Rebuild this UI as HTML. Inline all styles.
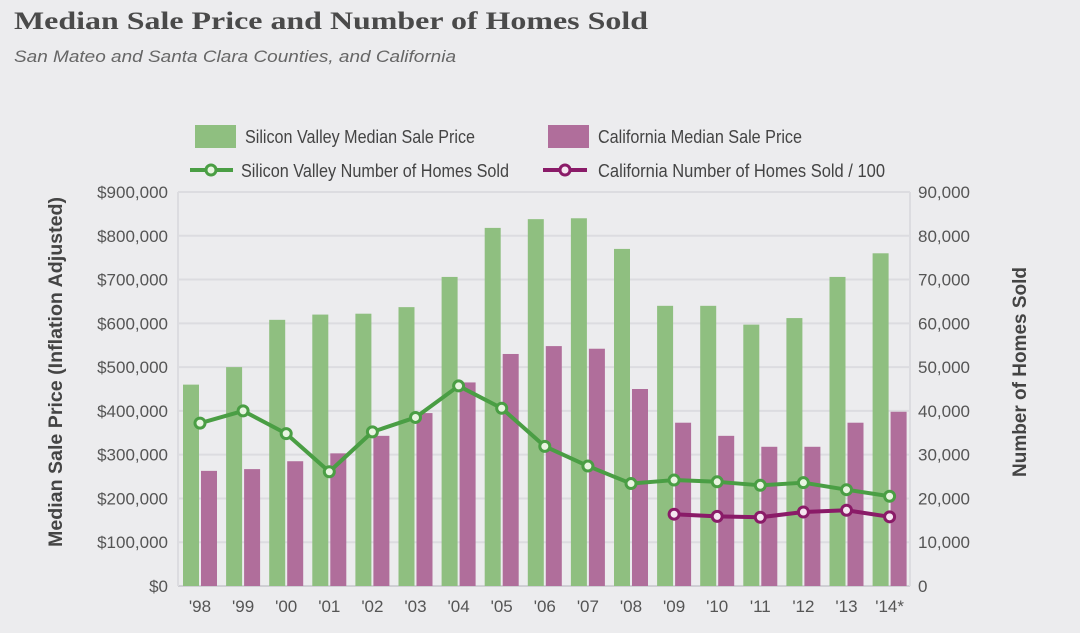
<!DOCTYPE html>
<html><head><meta charset="utf-8"><style>
html,body{margin:0;padding:0;background:#ececee;}
svg{display:block;font-family:"Liberation Sans Narrow","Liberation Sans",sans-serif;}
</style></head><body>
<svg id="chart" width="1080" height="633" viewBox="0 0 1080 633">
<rect x="0" y="0" width="1080" height="633" fill="#ececee"/>
<text x="14" y="29" font-family="Liberation Serif,serif" font-weight="bold" font-size="25" fill="#4a4a4a" textLength="634" lengthAdjust="spacingAndGlyphs">Median Sale Price and Number of Homes Sold</text>
<text x="14" y="62" font-style="italic" font-size="17" fill="#666" textLength="442" lengthAdjust="spacingAndGlyphs">San Mateo and Santa Clara Counties, and California</text>
<g>
<rect x="195" y="125" width="41" height="23" fill="#8fbf80"/>
<text x="245" y="143" font-size="18" fill="#444" textLength="230" lengthAdjust="spacingAndGlyphs">Silicon Valley Median Sale Price</text>
<rect x="548" y="125" width="41" height="23" fill="#b06e9b"/>
<text x="598" y="143" font-size="18" fill="#444" textLength="204" lengthAdjust="spacingAndGlyphs">California Median Sale Price</text>
<line x1="190" y1="170" x2="233" y2="170" stroke="#4a9e44" stroke-width="4"/>
<circle cx="211" cy="170" r="5" fill="#e8f5e0" stroke="#4a9e44" stroke-width="3"/>
<text x="241" y="177" font-size="18" fill="#444" textLength="268" lengthAdjust="spacingAndGlyphs">Silicon Valley Number of Homes Sold</text>
<line x1="543" y1="170" x2="587" y2="170" stroke="#8a1b68" stroke-width="4"/>
<circle cx="565" cy="170" r="5" fill="#f5e6f0" stroke="#8a1b68" stroke-width="3"/>
<text x="598" y="177" font-size="18" fill="#444" textLength="287" lengthAdjust="spacingAndGlyphs">California Number of Homes Sold / 100</text>
</g>
<g id="grid"></g><g id="bars"></g><g id="lines"></g><g id="axes"></g>
<text transform="translate(62,372) rotate(-90)" text-anchor="middle" font-weight="bold" font-size="19" fill="#444" textLength="350" lengthAdjust="spacingAndGlyphs">Median Sale Price (Inflation Adjusted)</text>
<text transform="translate(1026,372) rotate(-90)" text-anchor="middle" font-weight="bold" font-size="19" fill="#444" textLength="210" lengthAdjust="spacingAndGlyphs">Number of Homes Sold</text>
</svg>
<script>
const years=["'98","'99","'00","'01","'02","'03","'04","'05","'06","'07","'08","'09","'10","'11","'12","'13","'14*"];
const svPrice=[460,500,608,620,622,637,706,818,838,840,770,640,640,597,612,706,760];
const caPrice=[263,267,285,303,343,395,465,530,548,542,450,373,343,318,318,373,398];
const svHomes=[37.2,40,34.8,26.1,35.2,38.5,45.7,40.6,31.9,27.4,23.4,24.2,23.8,23,23.6,22,20.5];
const caHomes=[null,null,null,null,null,null,null,null,null,null,null,16.4,15.9,15.7,16.9,17.3,15.8];
const leftTicks=["$0","$100,000","$200,000","$300,000","$400,000","$500,000","$600,000","$700,000","$800,000","$900,000"];
const rightTicks=["0","10,000","20,000","30,000","40,000","50,000","60,000","70,000","80,000","90,000"];
const NS="http://www.w3.org/2000/svg";
const X0=178,X1=910,Y0=586,Y1=192;
const yL=v=>Y0-(v/900)*(Y0-Y1);
const yR=v=>Y0-(v/90)*(Y0-Y1);
const gx=i=>183+i*43.1;
function mk(p,t,a){const e=document.createElementNS(NS,t);for(const k in a)e.setAttribute(k,a[k]);document.getElementById(p).appendChild(e);return e;}
for(let i=0;i<leftTicks.length;i++){
 const y=Y0-i*(Y0-Y1)/9;
 const g=mk('grid','line',{x1:X0,x2:X1,y1:y,y2:y,stroke:i==0?'#cfcfd4':'#dcdce0','stroke-width':2});
 
 
 const t=mk('axes','text',{x:168,y:y+6,'text-anchor':'end','font-size':17,fill:'#555'});t.textContent=leftTicks[i];
 
 
 const r=mk('axes','text',{x:918,y:y+6,'font-size':17,fill:'#555'});r.textContent=rightTicks[i];
 
 
}
mk('grid','line',{x1:X0,x2:X0,y1:Y1,y2:Y0,stroke:'#dcdce0','stroke-width':2});
mk('grid','line',{x1:X1,x2:X1,y1:Y1,y2:Y0,stroke:'#dcdce0','stroke-width':2});
mk('grid','line',{x1:X0,x2:X1,y1:Y1,y2:Y1,stroke:'#dcdce0','stroke-width':2});
years.forEach((yr,i)=>{
 const x=gx(i);
 const a=mk('bars','rect',{x:x,y:yL(svPrice[i]),width:16,height:Y0-yL(svPrice[i]),fill:'#8fbf80'});
 
 
 const b=mk('bars','rect',{x:x+18,y:yL(caPrice[i]),width:16,height:Y0-yL(caPrice[i]),fill:'#b06e9b'});
 
 
 const t=mk('axes','text',{x:x+17,y:612,'text-anchor':'middle','font-size':17,fill:'#555'});t.textContent=yr;
 
 
});
function line(data,col,fill,name){
 let pts=[];data.forEach((v,i)=>{if(v!=null)pts.push([gx(i)+17,yR(v)]);});
 const p=mk('lines','polyline',{points:pts.map(p=>p.join(',')).join(' '),fill:'none',stroke:col,'stroke-width':4,'stroke-linejoin':'round'});
 
 
 pts.forEach(q=>{const c=mk('lines','circle',{cx:q[0],cy:q[1],r:5,fill:fill,stroke:col,'stroke-width':3});
 
 });
}
line(svHomes,'#4a9e44','#e8f5e0','line-sv-homes');
line(caHomes,'#8a1b68','#f5e6f0','line-ca-homes');
</script>
</body></html>
